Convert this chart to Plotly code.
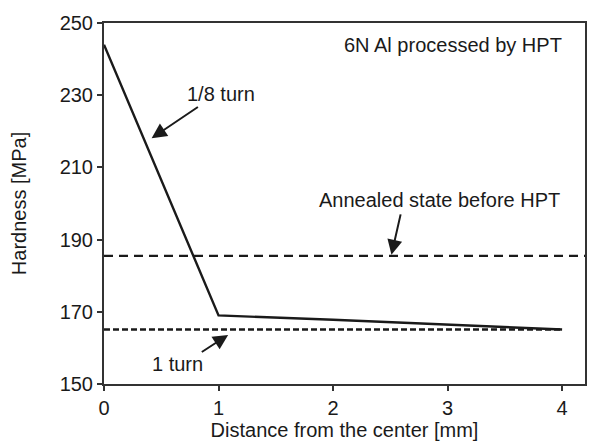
import plotly.graph_objects as go

# Hardness profile of 6N Al after 1/8 turn of HPT
distance_mm = [0, 1, 2, 3, 4]
hardness_eighth_turn = [244, 169, 167.8, 166.5, 165.1]

# Reference levels
annealed_hardness = 185.5
one_turn_hardness = 165.1
annealed_x = [0, 4.2]
one_turn_x = [0, 4]

x_ticks = [0, 1, 2, 3, 4]
y_ticks = [150, 170, 190, 210, 230, 250]

FONT = "Liberation Sans, Arial, sans-serif"
INK = "#1a1a1a"
SIZE = 20

fig = go.Figure()

fig.add_trace(go.Scatter(
    x=annealed_x, y=[annealed_hardness] * len(annealed_x), mode="lines",
    line=dict(color=INK, width=2.3, dash="9px,6px"), showlegend=False,
))
fig.add_trace(go.Scatter(
    x=one_turn_x, y=[one_turn_hardness] * len(one_turn_x), mode="lines",
    line=dict(color=INK, width=2.3, dash="6px,3px"), showlegend=False,
))
fig.add_trace(go.Scatter(
    x=distance_mm, y=hardness_eighth_turn, mode="lines",
    line=dict(color=INK, width=2.4), showlegend=False,
))

arrow_style = dict(showarrow=True, arrowhead=2, arrowsize=1.5, arrowwidth=2,
                   arrowcolor=INK, xref="x", yref="y", axref="x", ayref="y", text="")

annotations = [
    dict(x=0.416, y=218.1, ax=0.833, ay=227.0, **arrow_style),
    dict(x=2.51, y=185.8, ax=2.593, ay=197.4, **arrow_style),
    dict(x=1.084, y=163.6, ax=0.841, ay=158.6, **arrow_style),
    dict(x=1.02, y=230.3, text="1/8 turn", showarrow=False, xref="x", yref="y"),
    dict(x=0.642, y=155.5, text="1 turn", showarrow=False, xref="x", yref="y"),
    dict(x=2.93, y=201.0, text="Annealed state before HPT", showarrow=False,
         xref="x", yref="y"),
    dict(x=4.02, y=243.9, text="6N Al processed by HPT", showarrow=False,
         xref="x", yref="y", xanchor="right"),
]
for a in annotations:
    a.setdefault("font", dict(family=FONT, size=SIZE, color=INK))
    fig.add_annotation(**a)

axis_common = dict(
    showline=True, mirror=True, linecolor="#333333", linewidth=2,
    ticks="outside", ticklen=5, tickwidth=1.5, tickcolor="#333333",
    showgrid=False, zeroline=False,
    tickfont=dict(family=FONT, size=SIZE, color=INK),
)

fig.update_xaxes(
    range=[0, 4.2], tickvals=x_ticks, ticktext=[str(v) for v in x_ticks],
    title=dict(text="Distance from the center [mm]", standoff=4,
               font=dict(family=FONT, size=SIZE, color=INK)),
    **axis_common,
)
fig.update_yaxes(
    range=[150, 250], tickvals=y_ticks, ticktext=[str(v) for v in y_ticks],
    title=dict(text="Hardness [MPa]", standoff=28,
               font=dict(family=FONT, size=SIZE, color=INK)),
    **axis_common,
)

fig.update_layout(
    width=589, height=445,
    margin=dict(l=104, r=2, t=23, b=61),
    paper_bgcolor="white", plot_bgcolor="white",
)

fig.write_html("out.html")
